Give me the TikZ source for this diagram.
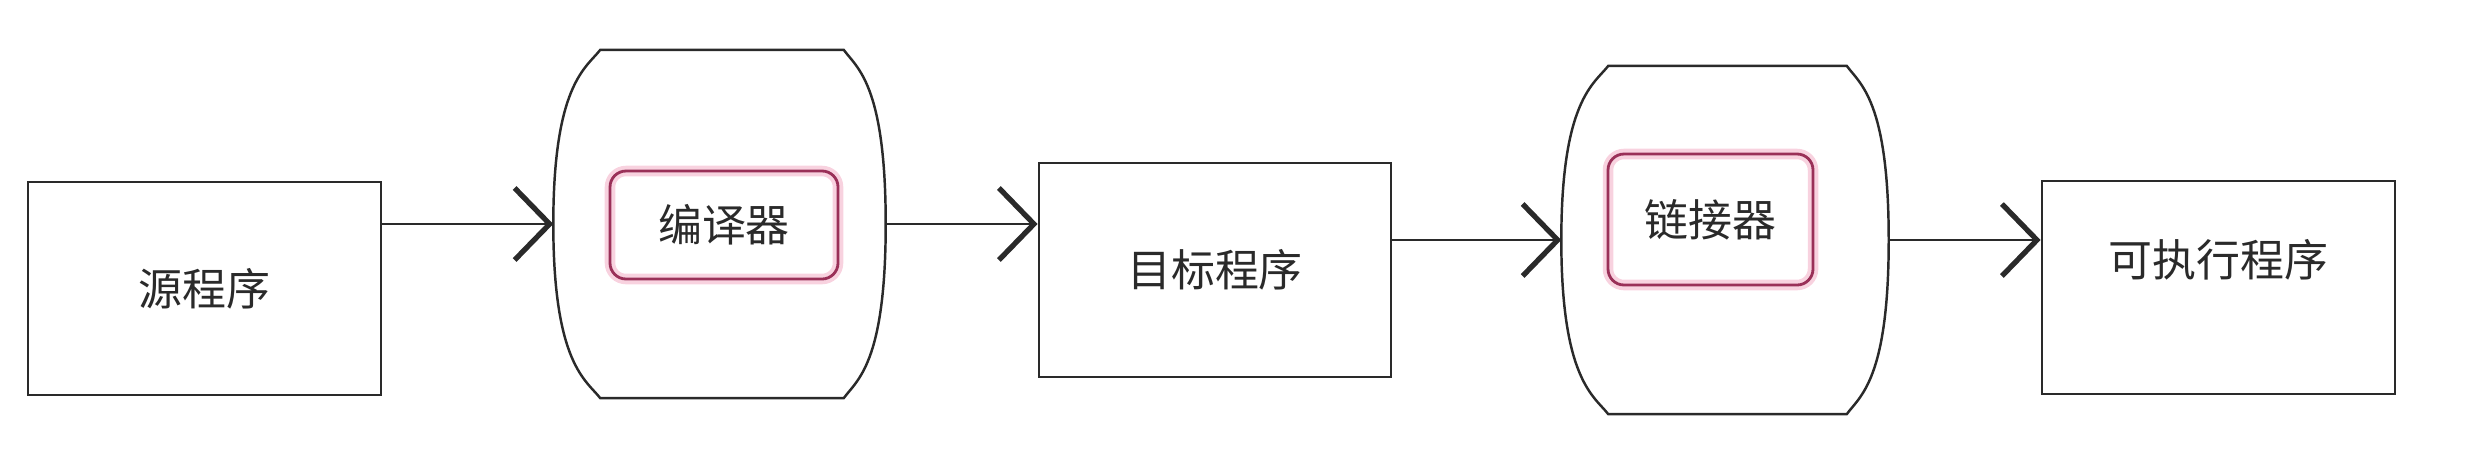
\documentclass[tikz,border=0pt]{standalone}
\usepackage{fontspec}
\setmainfont{Noto Sans CJK SC}
\usetikzlibrary{arrows.meta}
\definecolor{ink}{HTML}{2A2A2A}
\definecolor{rim}{HTML}{9A3058}
\definecolor{glow}{HTML}{F8D2DF}

\tikzset{
  prog/.style={draw=ink, line width=0.8pt, minimum width=3.53cm, minimum height=2.13cm, text=ink, font=\fontsize{12.5}{14}\selectfont},
  tool/.style={draw=rim, line width=0.8pt, rounded corners=0.16cm, text=ink, font=\fontsize{12.5}{14}\selectfont,
               preaction={draw=glow, line width=3pt}},
  holder/.style={minimum width=#1, minimum height=3.47cm, inner sep=0pt},
  flow/.style={-{Straight Barb[length=0.35cm, width=0.72cm, line width=1.5pt]}, line width=0.6pt, ink}
}

\begin{document}
\begin{tikzpicture}
\useasboundingbox (0,0) rectangle (24.66,4.52);
\node[prog] (src) at (2.045,1.635) {源程序};
\node[holder=3.31cm] (comp) at (7.195,2.28) {};
\node[tool, minimum width=2.28cm, minimum height=1.08cm] (cc) at (7.24,2.27) {编译器};
\node[prog, minimum width=3.52cm, minimum height=2.14cm] (obj) at (12.15,1.82) {目标程序};
\node[holder=3.26cm] (link) at (17.25,2.12) {};
\node[tool, minimum width=2.05cm, minimum height=1.31cm] (ld) at (17.105,2.325) {链接器};
\node[prog, label={[text=ink, font=\fontsize{12.5}{14}\selectfont, yshift=0.28cm]center:可执行程序}] (exe) at (22.185,1.645) {};
% barrel outlines round the two tools
\foreach \n in {comp,link} {
  \draw[ink, line width=0.7pt]
    ([xshift=0.47cm]\n.north west) .. controls ([xshift=0.33cm,yshift=-0.18cm]\n.north west) and ([yshift=1.4cm]\n.west) .. (\n.west)
    .. controls ([yshift=-1.4cm]\n.west) and ([xshift=0.33cm,yshift=0.18cm]\n.south west) .. ([xshift=0.47cm]\n.south west)
    -- ([xshift=-0.42cm]\n.south east)
    .. controls ([xshift=-0.29cm,yshift=0.18cm]\n.south east) and ([yshift=-1.4cm]\n.east) .. (\n.east)
    .. controls ([yshift=1.4cm]\n.east) and ([xshift=-0.29cm,yshift=-0.18cm]\n.north east) .. ([xshift=-0.42cm]\n.north east)
    -- cycle;
}
\draw[flow] (comp.west -| src.east) -- (comp.west);
\draw[flow] (comp.east) -- (comp.east -| obj.west);
\draw[flow] (link.west -| obj.east) -- (link.west);
\draw[flow] (link.east) -- (link.east -| exe.west);
\end{tikzpicture}
\end{document}
